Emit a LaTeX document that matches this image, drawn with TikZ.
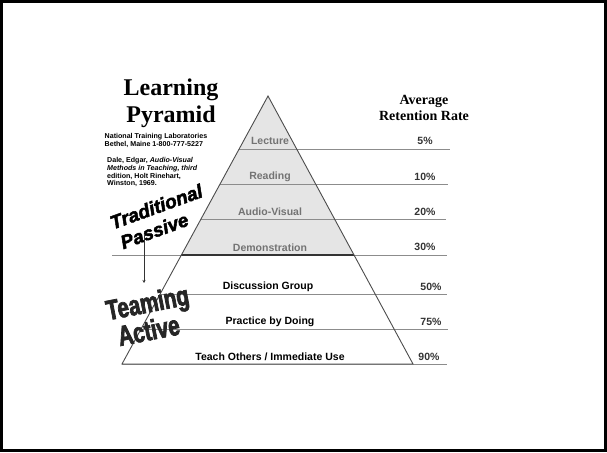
\documentclass[tikz,border=0pt]{standalone}
\usepackage{fontspec}
\usetikzlibrary{arrows.meta}
\setmainfont{Liberation Serif}
\setsansfont{Liberation Sans}
\newfontfamily\heavyit[FakeBold=2.5]{Liberation Sans Bold Italic}
\newfontfamily\heavysans[FakeBold=2.5,FakeStretch=0.74]{Liberation Sans Bold}
\begin{document}
\begin{tikzpicture}[x=1pt,y=-1pt,
  gline/.style={draw=black!45, line width=0.8pt},
  edge/.style={draw=black!70, line width=0.9pt},
  lvl/.style={font=\sffamily\bfseries\fontsize{10.5}{12}\selectfont, text=black!55, inner sep=0pt},
  act/.style={font=\sffamily\bfseries\fontsize{10.5}{12}\selectfont, text=black, inner sep=0pt},
  pct/.style={font=\sffamily\bfseries\fontsize{10.5}{12}\selectfont, text=black!80, inner sep=0pt},
  head/.style={font=\rmfamily\bfseries\fontsize{14}{16}\selectfont, align=center, inner sep=0pt},
  title/.style={font=\rmfamily\bfseries\fontsize{24}{27}\selectfont, align=center, inner sep=0pt},
  small/.style={font=\sffamily\bfseries\fontsize{7.1}{7.6}\selectfont, align=left, anchor=north west, inner sep=0pt},
  slant/.style={font=\heavyit\fontsize{19}{22}\selectfont, align=center, inner sep=0pt},
  team/.style={font=\heavysans\fontsize{28}{27.5}\selectfont, align=center, inner sep=0pt}
]
\useasboundingbox (0,0) rectangle (607,452);
\draw[line width=3pt] (1.5,1.5) rectangle (605.5,450.5);

% pyramid corners
\coordinate (apex) at (268,96);
\coordinate (bl) at (122,364);
\coordinate (br) at (413,364);

% shaded top part
\fill[black!10] (apex) -- (181.4,255) -- (354,255) -- cycle;

% horizontal level lines
\coordinate (l1a) at (239.1,149); \coordinate (l1b) at (450,149);
\coordinate (l2a) at (220.1,184); \coordinate (l2b) at (448,184);
\coordinate (l3a) at (201,219);   \coordinate (l3b) at (446,219);
\coordinate (l4a) at (112,255);   \coordinate (l4b) at (447,255);
\coordinate (l4c) at (181.4,255); \coordinate (l4d) at (354,255);
\coordinate (l5a) at (160,294);   \coordinate (l5b) at (447,294);
\coordinate (l6a) at (141,329);   \coordinate (l6b) at (448,329);
\coordinate (l7b) at (447,364);
\draw[gline] (l1a) -- (l1b);
\draw[gline] (l2a) -- (l2b);
\draw[gline] (l3a) -- (l3b);
\draw[gline] (l4a) -- (l4b);
\draw[black!80, line width=1.2pt] (l4c) -- (l4d);
\draw[gline] (l5a) -- (l5b);
\draw[gline] (l6a) -- (l6b);
\draw[gline] (bl) -- (l7b);

% pyramid edges
\draw[edge] (bl) -- (apex) -- (br) -- cycle;

% level labels
\node[lvl] (lecture) at (270,141) {Lecture};
\node[lvl] (reading) at (270,177) {Reading};
\node[lvl] (av) at (270,212) {Audio-Visual};
\node[lvl] (demo) at (270,248) {Demonstration};
\node[act] (disc) at (268,287) {Discussion Group};
\node[act] (prac) at (270,322) {Practice by Doing};
\node[act] (teach) at (270,357) {Teach Others / Immediate Use};

% percentages
\node[pct] (p5) at (425,141) {5\%};
\node[pct] (p10) at (425,177) {10\%};
\node[pct] (p20) at (425,212) {20\%};
\node[pct] (p30) at (425,247) {30\%};
\node[pct] (p50) at (431,287) {50\%};
\node[pct] (p75) at (431,322) {75\%};
\node[pct] (p90) at (429,357) {90\%};

% headings
\node[head] (avg) at (424,108) {Average\\Retention Rate};
\node[title] (ttl) at (171,103) {Learning\\Pyramid};

% references
\node[small] (ntl) at (104.5,133.5) {National Training Laboratories\\Bethel, Maine 1-800-777-5227};
\node[small] (dale) at (107,157.5) {Dale, Edgar, \textit{Audio-Visual}\\\textit{Methods in Teaching, third}\\edition, Holt Rinehart,\\Winston, 1969.};

% Traditional / Passive
\node[slant, rotate=20] (trad) at (160,217) {Traditional\\Passive\hspace*{20pt}};

% arrow
\coordinate (arrS) at (144,234);
\coordinate (arrE) at (144,283);
\draw[black!80, line width=0.6pt, -{Stealth[length=3pt,width=3pt]}] (arrS) -- (arrE);

% Teaming / Active
\node[team, text=black!85, rotate=11] (teaming) at (150,316) {Teaming\\Active\hspace*{8pt}};
\end{tikzpicture}
\end{document}
